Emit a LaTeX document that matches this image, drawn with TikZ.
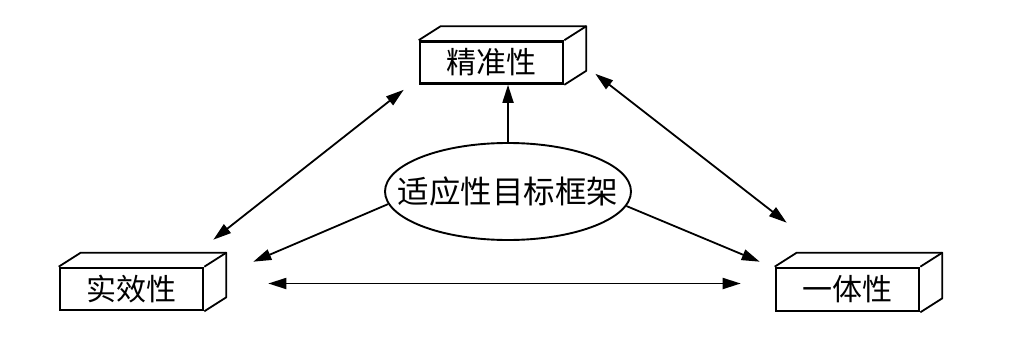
\documentclass[tikz,border=0pt]{standalone}
\usepackage{fontspec}
\newfontfamily\cjk{Noto Sans CJK SC}
\usetikzlibrary{arrows.meta,shapes.geometric}
\tikzset{
  facebox/.style={draw, line width=2.6pt, minimum width=143pt, minimum height=42pt, inner sep=0pt, font=\cjk\fontsize{30}{31}\selectfont},
  goalell/.style={draw, ellipse, line width=1.9pt, minimum width=246pt, minimum height=97pt, inner xsep=-30pt, inner ysep=0pt, font=\cjk\fontsize{31.5}{32}\selectfont},
  edge3d/.style={line width=1.8pt, line join=round},
  conn/.style={line width=1.8pt, -{Triangle[length=18pt,width=11pt]}},
  biconn/.style={line width=1.8pt, {Triangle[length=18pt,width=11pt]}-{Triangle[length=18pt,width=11pt]}}
}
\newcommand{\extrude}[1]{%
  \draw[edge3d] (#1.north west) -- ++(22,-14) -- ([shift={(22,-14)}]#1.north east) -- ([shift={(22,-14)}]#1.south east) -- (#1.south east);
  \draw[edge3d] (#1.north east) -- ++(22,-14);
}
\begin{document}
\begin{tikzpicture}[x=1pt,y=-1pt]
\useasboundingbox (0,0) rectangle (1024,361);
\node[facebox] (top) at (491.5,62.5) {精准性};
\node[facebox] (left) at (131.5,289) {实效性};
\node[facebox, minimum height=43pt] (right) at (847.5,289.5) {一体性};
\extrude{top}
\extrude{left}
\extrude{right}
\node[goalell] (ell) at (508,191.5) {适应性目标框架};
% center to top
\draw[conn] (ell.north) -- (ell.north |- top.south);
% center to left / right
\draw[conn] (ell.186.6) -- ([shift={(49,-5)}]left.north east);
\draw[conn] (ell.-7) -- ([shift={(-15,-5)}]right.north west);
% between boxes
\draw[biconn] ([shift={(-15,5)}]top.south west) -- ([shift={(9,-27)}]left.north east);
\draw[biconn] ([shift={(31,-11)}]top.south east) -- ([shift={(12,-44)}]right.north west);
\draw[biconn] ([shift={(64,-5.5)}]left.east) -- ([shift={(-34,-6)}]right.west);
\end{tikzpicture}
\end{document}
